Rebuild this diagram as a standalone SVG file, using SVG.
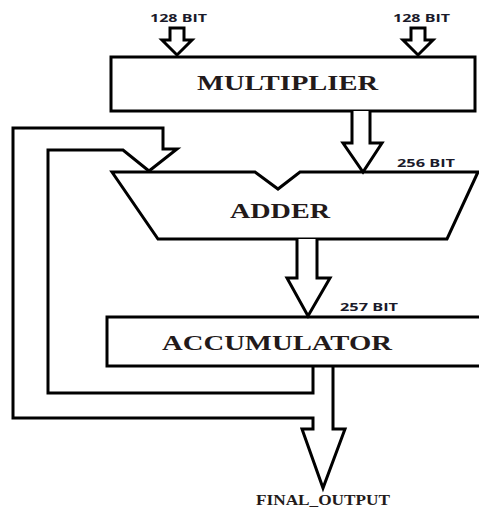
<svg xmlns="http://www.w3.org/2000/svg" width="479" height="508" viewBox="0 0 479 508">
<style>
.shape{fill:#fff;stroke:#000;stroke-width:3;stroke-linejoin:miter}
.line{fill:none;stroke:#000;stroke-width:3;stroke-linejoin:miter}
.block{font-family:"Liberation Serif","Times New Roman",serif;font-weight:bold;font-size:20px;fill:#231a1a}
.bit{font-family:"Open Sans","Liberation Sans",sans-serif;font-weight:bold;font-size:11px;fill:#1a1a2a}
.out{font-family:"Liberation Serif","Times New Roman",serif;font-weight:bold;font-size:15px;fill:#231a1a}
</style>
<rect width="479" height="508" fill="#fff"/>
<g id="multiplier">
<rect class="shape" x="111" y="57" width="364" height="54"/>
<text class="block" x="197" y="90" textLength="181" lengthAdjust="spacingAndGlyphs">MULTIPLIER</text>
</g>
<g id="adder">
<polygon class="shape" points="112,172 255,172 278,189 300,172 478,172 447,239 158,239"/>
<text class="block" x="230" y="218" textLength="100" lengthAdjust="spacingAndGlyphs">ADDER</text>
</g>
<g id="accumulator">
<rect class="shape" x="107" y="317" width="380" height="49"/>
<text class="block" x="162" y="350" textLength="230" lengthAdjust="spacingAndGlyphs">ACCUMULATOR</text>
</g>
<g id="connectors">
<polygon class="shape" points="170,28 184,28 184,40 192,40 177,55 162,40 170,40"/>
<polygon class="shape" points="411,28 425,28 425,40 433,40 418,55 403,40 411,40"/>
<path class="shape" d="M352,111 V143 H343 L363,172 L382,143 H370 V111"/>
<path class="shape" d="M297,239 V278 H287 L308,316 L330,278 H317 V239"/>
<path class="line" d="M313,366 V393 H48 V150 H123 L149,171 L177,149 H163 V128 H13 V418 H313 V429 H302 L323,488 L345,429 H333 V366"/>
</g>
<g id="labels">
<text class="bit" x="150" y="22" textLength="57" lengthAdjust="spacingAndGlyphs">128 BIT</text>
<text class="bit" x="393" y="22" textLength="57" lengthAdjust="spacingAndGlyphs">128 BIT</text>
<text class="bit" x="397" y="167" textLength="58" lengthAdjust="spacingAndGlyphs">256 BIT</text>
<text class="bit" x="340" y="311" textLength="58" lengthAdjust="spacingAndGlyphs">257 BIT</text>
<text class="out" x="256" y="505" textLength="134" lengthAdjust="spacingAndGlyphs">FINAL_OUTPUT</text>
</g>
</svg>
